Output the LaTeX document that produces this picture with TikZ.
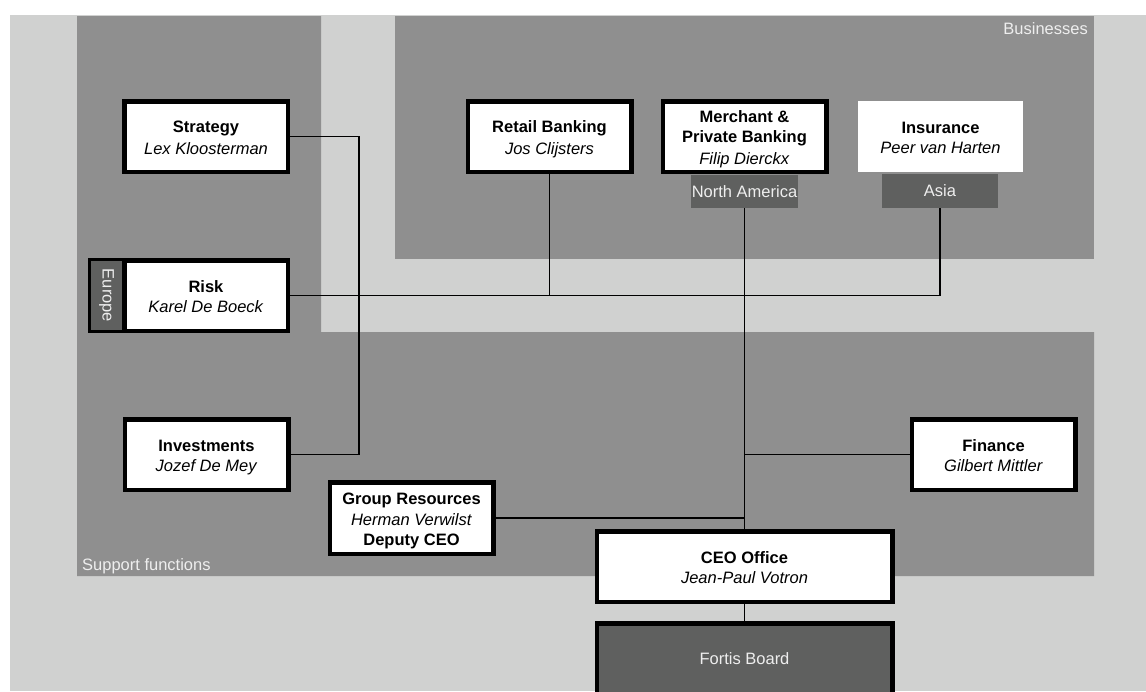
\documentclass[tikz,border=0pt]{standalone}
\usepackage{fontspec}
\setmainfont{Liberation Sans}
\definecolor{bglight}{HTML}{D0D1D0}
\definecolor{regiongray}{HTML}{8F8F8F}
\definecolor{tabgray}{HTML}{5F605F}
\definecolor{lighttext}{HTML}{EEEEEE}
\newcommand{\mystrut}{\rule[-3pt]{0pt}{20pt}}
\tikzset{
  txt/.style={font=\fontsize{16.5}{20}\selectfont},
  unit/.style={txt, draw=black, line width=4.5pt, fill=white, inner sep=0pt,
    minimum width=163.5pt, minimum height=70.5pt, align=center},
  plainunit/.style={txt, fill=white, inner sep=0pt,
    minimum width=165pt, minimum height=71pt, align=center},
  tabbox/.style={txt, fill=tabgray, text=lighttext, inner sep=0pt},
  link/.style={draw=black, line width=1.2pt},
  arealabel/.style={txt, text=lighttext, inner sep=0pt}
}
\begin{document}
\begin{tikzpicture}[x=1pt,y=-1pt]
\useasboundingbox (0,0) rectangle (1146,691);
% background areas
\fill[bglight] (10,15) rectangle (1146,691);
\fill[regiongray] (77,16) -- (321,16) -- (321,332) -- (1094,332) -- (1094,576) -- (77,576) -- cycle;
\fill[regiongray] (395,16) rectangle (1094,259);
\node[arealabel, anchor=base east] (biz) at (1088,34) {Businesses};
\node[arealabel, anchor=base west] (support) at (82,570) {Support functions};

% nodes
\node[unit] (strategy) at (206,136.5) {\mystrut\textbf{Strategy}\\\mystrut\textit{Lex Kloosterman}};
\node[tabbox, draw=black, line width=3.3pt, minimum width=33.7pt, minimum height=71.7pt] (europe) at (106.5,295.5) {\rotatebox{-90}{Europe}};
\node[unit] (risk) at (206,295.5) {\mystrut\textbf{Risk}\\\mystrut\textit{Karel De Boeck}};
\node[unit] (invest) at (206.5,454.5) {\mystrut\textbf{Investments}\\\mystrut\textit{Jozef De Mey}};
\node[unit, minimum height=71.5pt] (group) at (411.5,518) {\mystrut\textbf{Group Resources}\\\mystrut\textit{Herman Verwilst}\\\mystrut\textbf{Deputy CEO}};
\node[unit] (retail) at (549.5,136.5) {\mystrut\textbf{Retail Banking}\\\mystrut\textit{Jos Clijsters}};
\node[unit] (merchant) at (744.5,136.5) {\mystrut\textbf{Merchant \&}\\\mystrut\textbf{Private Banking}\\\mystrut\textit{Filip Dierckx}};
\node[tabbox, minimum width=107pt, minimum height=33pt] (namerica) at (744.5,191.5) {North America};
\node[plainunit] (insurance) at (940.5,136.5) {\mystrut\textbf{Insurance}\\\mystrut\textit{Peer van Harten}};
\node[tabbox, minimum width=116pt, minimum height=34pt] (asia) at (940,191) {Asia};
\node[unit] (finance) at (993.5,454.5) {\mystrut\textbf{Finance}\\\mystrut\textit{Gilbert Mittler}};
\node[unit, minimum width=295.5pt] (ceo) at (744.5,566.5) {\mystrut\textbf{CEO Office}\\\mystrut\textit{Jean-Paul Votron}};
\node[unit, minimum width=295.5pt, fill=tabgray, text=lighttext] (board) at (744.5,658.5) {Fortis Board};

% connectors
\draw[link] (strategy.east) -- ++(69,0) |- (invest.east);
\draw[link] (risk.east) -| (asia.south);
\draw[link] (retail.south) -- (retail.south |- risk.east);
\draw[link] (namerica.south) -- (ceo.north);
\draw[link] (finance.west) -- (finance.west -| namerica.south);
\draw[link] (group.east) -- (group.east -| namerica.south);
\draw[link] (ceo.south) -- (board.north);
\end{tikzpicture}
\end{document}
